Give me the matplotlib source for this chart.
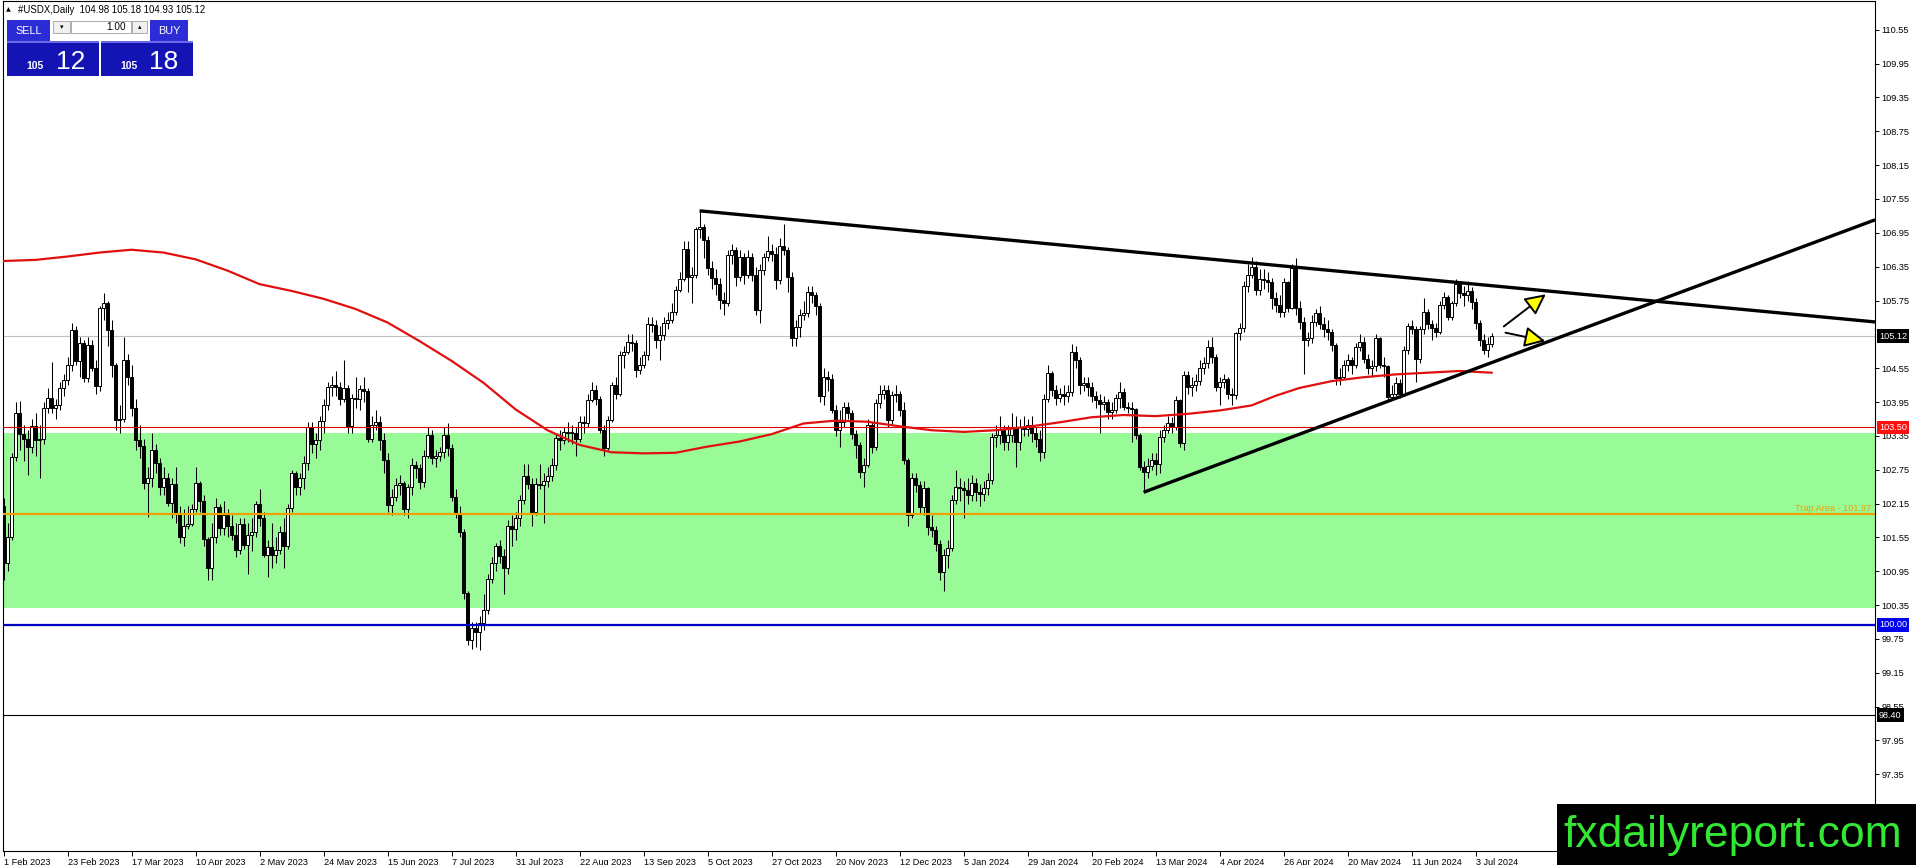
import numpy as np
import pandas as pd
import matplotlib
matplotlib.use('Agg')
import matplotlib.pyplot as plt
from matplotlib.patches import Rectangle
from matplotlib.transforms import blended_transform_factory

plt.rcParams['font.family'] = ['Liberation Sans', 'DejaVu Sans']

W, H = 1916, 865

# daily bars, 1 Feb 2023 .. 9 Jul 2024 (broker has no bar on 25 Dec and 1 Jan)
dates = pd.bdate_range('2023-02-01', '2024-07-09')
dates = dates[~dates.isin(pd.to_datetime(['2023-12-25', '2024-01-01']))]

first_open = 102.10
close = [
    101.10, 101.56, 102.98, 103.75, 103.38, 103.30, 103.16, 103.53, 103.28, 103.30,
    103.84, 104.02, 103.85, 103.90, 104.19, 104.34, 104.61, 105.23, 104.67, 104.99,
    104.37, 104.96, 104.55, 104.23, 105.61, 105.70, 105.23, 104.61, 103.63, 103.65,
    104.69, 104.40, 103.84, 103.28, 103.17, 102.51, 102.60, 103.10, 102.87, 102.45,
    102.60, 102.16, 102.50, 101.98, 101.56, 101.75, 101.78, 102.05, 102.51, 102.20,
    101.53, 101.00, 101.56, 102.09, 101.72, 101.95, 101.75, 101.60, 101.32, 101.78,
    101.42, 101.60, 101.65, 102.15, 101.90, 101.24, 101.38, 101.24, 101.32, 101.65,
    101.40, 102.07, 102.69, 102.45, 102.60, 102.87, 103.50, 103.20, 103.28, 103.62,
    103.90, 104.22, 104.25, 104.22, 104.00, 104.20, 103.52, 104.02, 104.00, 104.18,
    104.15, 103.30, 103.54, 103.60, 103.27, 102.92, 102.12, 102.27, 102.48, 102.52,
    102.06, 102.45, 102.84, 102.78, 102.54, 103.00, 103.37, 102.95, 103.00, 103.07,
    103.37, 103.13, 102.27, 101.98, 101.65, 100.56, 99.73, 99.94, 99.88, 100.03,
    100.27, 100.81, 101.10, 101.40, 101.22, 101.00, 101.75, 101.70, 101.90, 102.21,
    102.63, 102.50, 102.00, 102.50, 102.48, 102.55, 102.63, 102.83, 103.31, 103.28,
    103.42, 103.40, 103.40, 103.30, 103.60, 103.58, 103.99, 104.16, 104.00, 103.46,
    103.13, 103.63, 104.25, 104.10, 104.78, 104.84, 105.02, 105.00, 104.52, 104.61,
    104.78, 105.34, 105.32, 105.05, 105.14, 105.35, 105.40, 105.55, 105.94, 106.14,
    106.67, 106.17, 106.20, 107.01, 107.06, 106.82, 106.32, 106.15, 106.05, 105.76,
    105.70, 106.56, 106.65, 106.17, 106.53, 106.20, 106.53, 106.20, 105.58, 106.29,
    106.53, 106.62, 106.58, 106.11, 106.71, 106.65, 106.17, 105.08, 105.28, 105.50,
    105.53, 105.90, 105.85, 105.65, 104.05, 104.40, 104.35, 103.81, 103.45, 103.60,
    103.87, 103.75, 103.39, 103.19, 102.71, 102.83, 103.54, 103.16, 103.93, 104.10,
    104.16, 103.63, 104.07, 104.10, 103.81, 102.92, 101.95, 102.60, 102.48, 102.09,
    102.42, 101.74, 101.68, 101.44, 100.94, 101.24, 101.36, 102.21, 102.45, 102.42,
    102.39, 102.30, 102.51, 102.35, 102.32, 102.42, 102.56, 103.33, 103.36, 103.45,
    103.24, 103.36, 103.51, 103.24, 103.51, 103.47, 103.54, 103.40, 103.30, 103.07,
    104.00, 104.46, 104.16, 104.02, 104.10, 104.05, 104.13, 104.84, 104.69, 104.25,
    104.28, 104.22, 104.05, 103.99, 103.92, 103.95, 103.78, 103.80, 104.03, 104.13,
    103.87, 103.85, 103.83, 103.36, 102.80, 102.71, 102.82, 102.92, 102.85, 103.33,
    103.45, 103.57, 103.50, 103.99, 103.22, 104.43, 104.22, 104.25, 104.33, 104.55,
    104.64, 104.93, 104.75, 104.22, 104.30, 104.35, 104.10, 104.07, 105.17, 105.26,
    106.01, 106.20, 106.35, 105.94, 106.14, 106.11, 106.08, 105.79, 105.67, 105.55,
    106.08, 105.61, 106.32, 105.61, 105.37, 105.05, 105.08, 105.37, 105.52, 105.34,
    105.25, 105.20, 104.96, 104.37, 104.40, 104.61, 104.69, 104.61, 104.93, 105.02,
    104.72, 104.55, 104.58, 105.08, 104.61, 104.58, 104.04, 104.10, 104.28, 104.10,
    104.87, 105.30, 105.25, 104.72, 105.24, 105.55, 105.34, 105.26, 105.20, 105.67,
    105.82, 105.46, 105.70, 106.05, 105.88, 105.85, 105.92, 105.72, 105.35, 105.05,
    104.88, 104.98, 105.12,
]
high = [
    102.25, 101.80, 103.05, 103.95, 103.96, 103.55, 103.45, 103.65, 103.75, 103.55,
    103.95, 104.20, 104.66, 104.00, 104.30, 104.45, 104.75, 105.35, 105.30, 105.10,
    105.05, 105.10, 105.05, 104.70, 105.65, 105.88, 105.75, 105.40, 104.65, 103.90,
    105.10, 104.80, 104.60, 104.00, 103.55, 103.30, 102.80, 103.40, 103.20, 102.95,
    102.80, 102.70, 102.60, 102.80, 102.10, 102.05, 102.10, 102.15, 102.80, 102.55,
    102.30, 101.55, 101.80, 102.25, 102.15, 102.20, 102.05, 101.95, 101.80, 101.90,
    101.90, 101.80, 101.90, 102.20, 102.40, 102.00, 101.50, 101.80, 101.55, 101.75,
    101.90, 102.15, 102.75, 102.72, 102.70, 103.00, 103.60, 103.60, 103.40, 103.70,
    104.00, 104.30, 104.42, 104.50, 104.30, 104.70, 104.25, 104.10, 104.40, 104.25,
    104.40, 104.20, 103.70, 103.80, 103.70, 103.40, 103.05, 102.40, 102.60, 102.65,
    102.55, 102.50, 102.95, 102.90, 102.85, 103.10, 103.50, 103.45, 103.10, 103.15,
    103.50, 103.57, 103.20, 102.40, 102.10, 101.70, 100.60, 100.05, 100.05, 100.15,
    100.55, 100.90, 101.20, 101.45, 101.50, 101.35, 101.85, 101.95, 102.00, 102.30,
    102.85, 102.85, 102.60, 102.60, 102.85, 102.70, 102.80, 102.95, 103.40, 103.45,
    103.50, 103.60, 103.55, 103.50, 103.70, 103.70, 104.10, 104.30, 104.25, 104.05,
    103.55, 103.70, 104.30, 104.40, 104.85, 104.95, 105.15, 105.15, 105.05, 104.75,
    104.85, 105.45, 105.45, 105.40, 105.30, 105.45, 105.55, 105.70, 106.00, 106.25,
    106.80, 106.80, 106.35, 107.05, 107.34, 107.10, 106.90, 106.45, 106.30, 106.15,
    105.90, 106.65, 106.75, 106.70, 106.65, 106.60, 106.65, 106.60, 106.35, 106.40,
    106.60, 106.90, 106.75, 106.70, 106.85, 107.10, 106.70, 106.25, 105.40, 105.60,
    105.75, 106.00, 106.00, 105.90, 105.70, 104.55, 104.50, 104.45, 103.90, 103.80,
    103.95, 103.95, 103.80, 103.45, 103.25, 102.95, 103.65, 103.60, 104.00, 104.25,
    104.25, 104.25, 104.15, 104.25, 104.15, 103.95, 102.95, 102.70, 102.70, 102.55,
    102.55, 102.45, 101.95, 101.75, 101.50, 101.35, 101.50, 102.30, 102.75, 102.60,
    102.55, 102.60, 102.65, 102.60, 102.50, 102.55, 102.70, 103.40, 103.55, 103.70,
    103.55, 103.55, 103.75, 103.70, 103.65, 103.70, 103.65, 103.70, 103.50, 103.45,
    104.10, 104.60, 104.50, 104.25, 104.20, 104.25, 104.25, 104.97, 104.95, 104.75,
    104.40, 104.40, 104.30, 104.15, 104.10, 104.05, 104.00, 103.95, 104.10, 104.30,
    104.20, 103.95, 103.95, 103.85, 103.40, 102.90, 102.95, 103.05, 103.05, 103.45,
    103.55, 103.70, 103.68, 104.05, 104.00, 104.50, 104.50, 104.40, 104.45, 104.70,
    104.75, 105.05, 105.10, 104.80, 104.40, 104.45, 104.40, 104.20, 105.20, 105.35,
    106.10, 106.40, 106.52, 106.45, 106.30, 106.30, 106.25, 106.15, 105.90, 105.85,
    106.15, 106.10, 106.40, 106.50, 105.75, 105.45, 105.20, 105.50, 105.60, 105.65,
    105.45, 105.40, 105.25, 105.00, 104.55, 104.70, 104.80, 104.75, 105.00, 105.15,
    105.10, 104.80, 104.70, 105.15, 105.10, 104.75, 104.60, 104.25, 104.40, 104.35,
    104.95, 105.35, 105.40, 105.30, 105.30, 105.80, 105.60, 105.40, 105.35, 105.75,
    105.90, 105.85, 105.75, 106.13, 106.08, 106.00, 106.10, 105.99, 105.80, 105.40,
    105.15, 105.10, 105.18,
]
low = [
    100.80, 100.95, 101.50, 102.90, 103.10, 102.90, 102.65, 103.05, 103.00, 102.60,
    103.20, 103.75, 103.75, 103.65, 103.80, 104.05, 104.25, 104.50, 104.60, 104.40,
    104.30, 104.30, 104.50, 104.10, 104.15, 105.40, 104.95, 104.40, 103.45, 103.40,
    103.60, 104.25, 103.70, 103.10, 102.95, 102.40, 101.92, 102.45, 102.70, 102.30,
    102.30, 102.10, 101.90, 101.80, 101.45, 101.40, 101.70, 101.75, 102.00, 102.00,
    101.40, 100.80, 100.79, 101.45, 101.60, 101.60, 101.55, 101.50, 101.20, 101.25,
    101.35, 100.90, 101.30, 101.55, 101.75, 101.20, 100.85, 101.00, 101.10, 101.25,
    101.00, 101.35, 102.00, 102.30, 102.30, 102.40, 102.75, 103.05, 102.95, 103.10,
    103.40, 103.80, 104.05, 104.05, 103.90, 103.95, 103.40, 103.40, 103.85, 103.80,
    103.95, 103.25, 103.25, 103.45, 103.10, 102.70, 102.00, 101.95, 102.20, 102.30,
    101.95, 101.90, 102.30, 102.60, 102.40, 102.45, 102.95, 102.85, 102.80, 102.90,
    102.95, 103.00, 102.20, 101.90, 101.55, 100.45, 99.65, 99.58, 99.60, 99.55,
    99.90, 100.20, 100.75, 100.95, 101.10, 100.55, 100.90, 101.40, 101.50, 101.75,
    102.15, 102.40, 101.75, 101.95, 102.40, 101.80, 102.45, 102.55, 102.75, 103.10,
    103.20, 103.25, 103.20, 103.00, 103.25, 103.40, 103.50, 103.95, 103.90, 103.40,
    103.00, 103.10, 103.60, 104.00, 104.05, 104.55, 104.80, 104.85, 104.40, 104.45,
    104.55, 104.70, 105.20, 104.90, 104.70, 105.05, 105.25, 105.35, 105.50, 105.90,
    106.10, 105.90, 105.70, 106.15, 106.85, 106.50, 106.20, 105.95, 105.85, 105.60,
    105.50, 105.65, 106.40, 106.00, 106.10, 106.05, 106.15, 106.10, 105.50, 105.35,
    106.20, 106.45, 106.45, 105.95, 106.05, 106.55, 105.90, 104.95, 104.95, 105.10,
    105.40, 105.45, 105.70, 105.50, 103.95, 103.90, 104.15, 103.75, 103.35, 103.15,
    103.50, 103.65, 103.30, 102.95, 102.60, 102.45, 102.80, 103.05, 103.10, 103.85,
    104.00, 103.50, 103.55, 103.95, 103.70, 102.85, 101.75, 101.90, 102.35, 101.98,
    101.95, 101.60, 101.55, 101.30, 100.80, 100.60, 101.00, 101.30, 102.15, 102.20,
    101.90, 102.15, 102.20, 102.20, 102.10, 102.20, 102.30, 102.50, 103.15, 103.20,
    103.10, 103.10, 103.25, 102.80, 103.10, 103.35, 103.35, 103.25, 103.15, 102.90,
    102.95, 103.95, 104.05, 103.90, 103.95, 103.90, 103.95, 104.05, 104.55, 104.10,
    104.15, 104.05, 103.95, 103.85, 103.40, 103.80, 103.65, 103.65, 103.75, 103.85,
    103.80, 103.75, 103.25, 103.30, 102.75, 102.35, 102.60, 102.75, 102.65, 102.70,
    103.25, 103.40, 103.40, 103.45, 103.15, 103.10, 104.10, 104.05, 104.15, 104.25,
    104.45, 104.55, 104.65, 104.15, 103.90, 104.20, 104.00, 103.90, 104.00, 105.05,
    105.20, 105.90, 106.15, 105.85, 105.85, 105.95, 105.90, 105.60, 105.55, 105.45,
    105.45, 105.55, 105.60, 105.50, 105.25, 104.45, 104.95, 105.00, 105.30, 105.25,
    105.10, 105.05, 104.85, 104.25, 104.25, 104.35, 104.50, 104.45, 104.55, 104.85,
    104.65, 104.45, 104.40, 104.50, 104.55, 104.40, 103.98, 103.99, 104.05, 104.02,
    104.05, 104.80, 105.15, 104.30, 104.65, 105.15, 105.25, 105.05, 105.10, 105.15,
    105.60, 105.40, 105.40, 105.65, 105.80, 105.65, 105.75, 105.60, 105.25, 104.95,
    104.80, 104.75, 104.93,
]

# red moving average, every few bars
ma_bars = [0, 8, 16, 24, 32, 40, 48, 56, 64, 72, 80, 88, 96, 104, 112, 120, 128, 136,
           144, 152, 160, 168, 176, 184, 192, 200, 208, 216, 224, 232, 240, 248, 256,
           264, 272, 280, 288, 296, 304, 312, 318, 324, 332, 340, 348, 356, 364, 372]
ma_vals = [106.45, 106.47, 106.53, 106.60, 106.65, 106.60, 106.48, 106.28, 106.04, 105.92,
           105.78, 105.60, 105.36, 105.03, 104.68, 104.29, 103.82, 103.45, 103.19, 103.06,
           103.04, 103.05, 103.16, 103.25, 103.38, 103.57, 103.62, 103.60, 103.52, 103.45,
           103.42, 103.45, 103.51, 103.59, 103.68, 103.72, 103.70, 103.74, 103.80, 103.89,
           104.06, 104.20, 104.32, 104.39, 104.44, 104.47, 104.50, 104.47]

# drawn objects (bar index, price)
upper_line = ([174, 467.85], [107.34, 105.37])
lower_line = ([285, 467.85], [102.35, 107.18])
arrow_up = ((374.5, 105.26), (386.1, 105.89))
arrow_down = ((374.8, 105.19), (386.1, 105.02))

zone = (100.30, 103.40)
bid, ask = 105.12, 105.18
trap_level = 101.97
red_level, blue_level, black_level = 103.50, 100.00, 98.40

ytick_vals = [110.55, 109.95, 109.35, 108.75, 108.15, 107.55, 106.95, 106.35, 105.75,
              104.55, 103.95, 103.35, 102.75, 102.15, 101.55, 100.95, 100.35, 99.75,
              99.15, 98.55, 97.95, 97.35, 96.75, 96.15]
ytick_labels = ['110.55', '109.95', '109.35', '108.75', '108.15', '107.55', '106.95',
                '106.35', '105.75', '104.55', '103.95', '103.35', '102.75', '102.15',
                '101.55', '100.95', '100.35', '99.75', '99.15', '98.55', '97.95', '97.35',
                '96.75', '96.15']

c = np.array(close)
o = np.array([first_open] + close[:-1])
hi = np.array(high)
lo = np.array(low)
x = np.arange(len(c))

fig = plt.figure(figsize=(W / 100, H / 100), dpi=100)
ax = fig.add_axes([2.5 / W, 1 - 851 / H, (1875 - 2.5) / W, 850 / H])
ax.set_xlim(-0.25, 467.85)
ax.set_ylim(95.99, 111.06)

ax.axhspan(zone[0], zone[1], color='#98fb98', lw=0, zorder=0)

# candles
ax.vlines(x, lo, hi, color='black', lw=0.75, zorder=3)
up = c >= o
bottom = np.minimum(o, c)
height = np.maximum(np.abs(c - o), 0.012)
ax.bar(x[up], height[up], bottom=bottom[up], width=0.55, facecolor='white',
       edgecolor='black', linewidth=0.7, zorder=3.1)
ax.bar(x[~up], height[~up], bottom=bottom[~up], width=0.55, facecolor='black',
       edgecolor='black', linewidth=0.7, zorder=3.1)

# horizontal levels
ax.axhline(bid, color='#c0c0c0', lw=0.8, zorder=1)
ax.axhline(red_level, color='#e00000', lw=0.8, zorder=4)
ax.axhline(trap_level, color='#f0a000', lw=1.6, zorder=4)
ax.axhline(blue_level, color='#0000c0', lw=1.6, zorder=4)
ax.axhline(black_level, color='black', lw=0.8, zorder=4)

ax.plot(ma_bars, ma_vals, color='#e01010', lw=1.6, zorder=4.5)
ax.plot(*upper_line, color='black', lw=2.4, solid_capstyle='butt', zorder=5)
ax.plot(*lower_line, color='black', lw=2.4, solid_capstyle='butt', zorder=5)
for a in (arrow_up, arrow_down):
    ax.annotate('', xy=a[1], xytext=a[0],
                arrowprops=dict(arrowstyle='-|>,head_length=0.9,head_width=0.45',
                                fc='#ffff00', ec='black', lw=1.4, mutation_scale=14),
                zorder=6)

ax.text(467.0, trap_level + 0.02, 'Trap Area - %.2f' % trap_level, color='#f0a000',
        fontsize=6.6, ha='right', va='bottom', zorder=6)

# axes styling
for s in ax.spines.values():
    s.set_color('black')
    s.set_linewidth(0.8)
ax.yaxis.tick_right()
ax.set_yticks(ytick_vals)
ax.set_yticklabels(ytick_labels)
ax.tick_params(axis='y', direction='out', length=3, width=0.7, pad=1.5, labelsize=6.6)
xt = x[::16]
ax.set_xticks(xt)
ax.set_xticklabels(['%d %s' % (dates[i].day, dates[i].strftime('%b %Y')) for i in xt])
ax.tick_params(axis='x', direction='out', length=3.5, width=0.7, pad=1.2, labelsize=6.6)
for t in ax.get_xticklabels():
    t.set_horizontalalignment('left')

# price tags on the right axis
tr = blended_transform_factory(ax.transAxes, ax.transData)
for price, bg in [(bid, 'black'), (red_level, '#ff1010'), (blue_level, '#0000f0'),
                  (black_level, 'black')]:
    ax.text(1 + 4 / 1872.5, price, '%.2f' % price, transform=tr, ha='left', va='center',
            color='white', fontsize=6.6, clip_on=False, zorder=7,
            bbox=dict(boxstyle='square,pad=0.25', fc=bg, ec='none'))


def px_rect(x0, y0, x1, y1, fc, ec='none', lw=0, z=10):
    fig.add_artist(Rectangle((x0 / W, 1 - y1 / H), (x1 - x0) / W, (y1 - y0) / H,
                             transform=fig.transFigure, fc=fc, ec=ec, lw=lw, zorder=z))


def px_text(px, py, s, **kw):
    kw.setdefault('zorder', 11)
    fig.text(px / W, 1 - py / H, s, **kw)


# header line
px_text(6, 10, '\u25b2', fontsize=4.5, va='center', family=['DejaVu Sans'])
px_text(18, 10, '#USDX,Daily  %.2f %.2f %.2f %.2f' % (o[-1], hi[-1], lo[-1], c[-1]),
        fontsize=6.9, va='center')

# one-click trading panel
px_rect(7, 20, 50, 42, '#2c2cd6')
px_rect(150, 20, 188, 42, '#2c2cd6')
px_rect(53, 21, 70, 33, '#f0f0f0', ec='#a0a0a0', lw=0.6)
px_rect(71, 21, 131, 33, 'white', ec='#a0a0a0', lw=0.6)
px_rect(132, 21, 147, 33, '#f0f0f0', ec='#a0a0a0', lw=0.6)
px_rect(7, 42, 99, 76, '#1414b4')
px_rect(101, 42, 193, 76, '#1414b4')
px_rect(7, 41.5, 99, 42.5, '#6a6ae8')
px_rect(101, 41.5, 193, 42.5, '#6a6ae8')
px_text(28.5, 31, 'SELL', color='white', fontsize=7.8, ha='center', va='center')
px_text(169, 31, 'BUY', color='white', fontsize=7.8, ha='center', va='center')
px_text(61.5, 27.5, '\u25be', fontsize=5, ha='center', va='center', family=['DejaVu Sans'])
px_text(139.5, 27.5, '\u25b4', fontsize=5, ha='center', va='center', family=['DejaVu Sans'])
px_text(126, 27.5, '1.00', fontsize=7.2, ha='right', va='center')
bid_s, ask_s = '%.2f' % bid, '%.2f' % ask
px_text(44, 69, bid_s[:3], color='white', fontsize=7.5, weight='bold', ha='right', va='baseline')
px_text(56, 69, bid_s[-2:], color='white', fontsize=19, ha='left', va='baseline')
px_text(138, 69, ask_s[:3], color='white', fontsize=7.5, weight='bold', ha='right', va='baseline')
px_text(149, 69, ask_s[-2:], color='white', fontsize=19, ha='left', va='baseline')

# watermark
px_rect(1557, 804, W, H, 'black', z=12)
px_text(1733, 835, 'fxdailyreport.com', color='#33e833', fontsize=32, ha='center',
        va='center', zorder=13)

fig.savefig('out.png', dpi=100)
